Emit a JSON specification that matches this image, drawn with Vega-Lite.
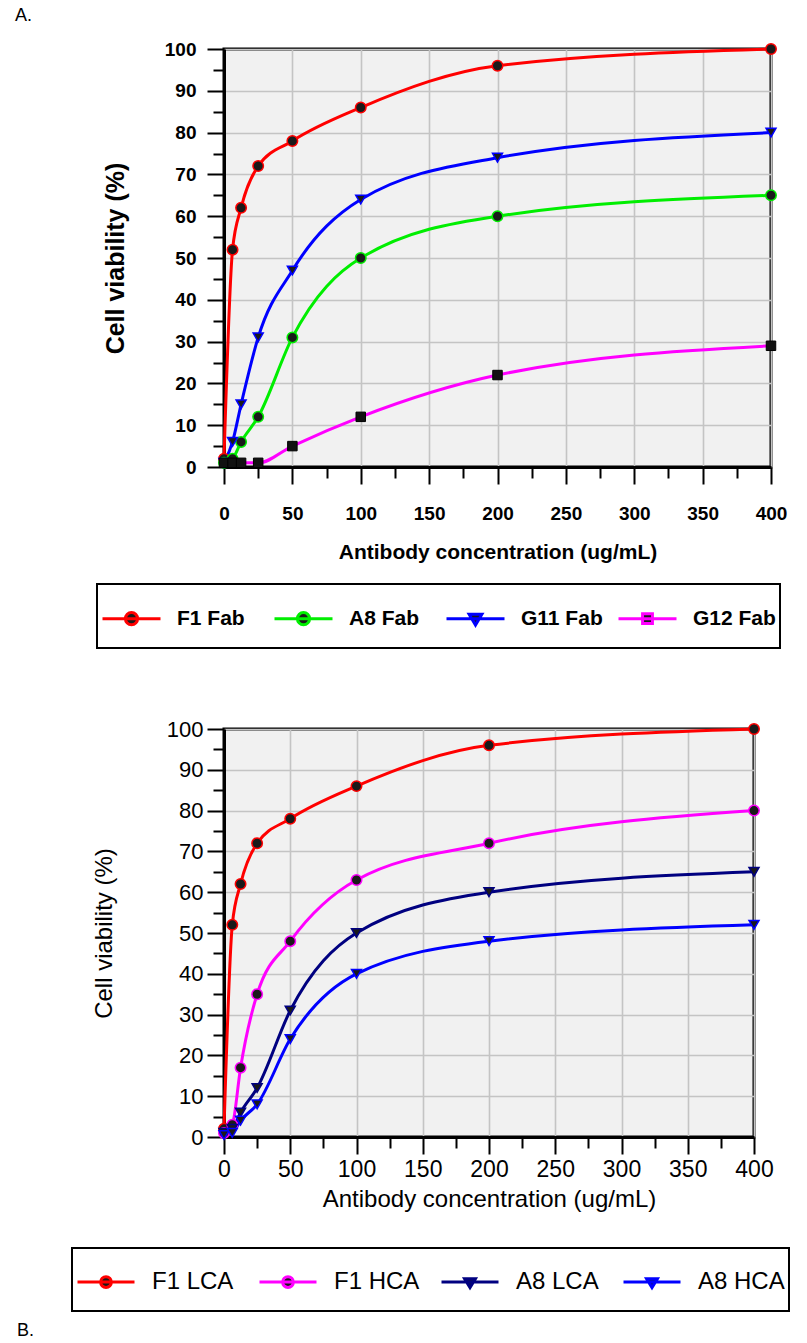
{
  "$schema": "https://vega.github.io/schema/vega-lite/v6.json",
  "background": "white",
  "padding": {"left": 13, "top": 5, "right": 5, "bottom": 0},
  "spacing": 65,
  "config": {
    "view": {"stroke": "black", "strokeWidth": 3, "fill": "#f1f1f1"},
    "font": "Liberation Sans"
  },
  "resolve": {
    "scale": {"color": "independent", "stroke": "independent", "shape": "independent"},
    "legend": {"color": "independent", "stroke": "independent", "shape": "independent"}
  },
  "datasets": {
    "a": [
      {"series": "F1 Fab", "conc": 0, "viability": 2},
      {"series": "F1 Fab", "conc": 6.25, "viability": 52},
      {"series": "F1 Fab", "conc": 12.5, "viability": 62},
      {"series": "F1 Fab", "conc": 25, "viability": 72},
      {"series": "F1 Fab", "conc": 50, "viability": 78},
      {"series": "F1 Fab", "conc": 100, "viability": 86},
      {"series": "F1 Fab", "conc": 200, "viability": 96},
      {"series": "F1 Fab", "conc": 400, "viability": 100},
      {"series": "A8 Fab", "conc": 0, "viability": 1},
      {"series": "A8 Fab", "conc": 6.25, "viability": 2},
      {"series": "A8 Fab", "conc": 12.5, "viability": 6},
      {"series": "A8 Fab", "conc": 25, "viability": 12},
      {"series": "A8 Fab", "conc": 50, "viability": 31},
      {"series": "A8 Fab", "conc": 100, "viability": 50},
      {"series": "A8 Fab", "conc": 200, "viability": 60},
      {"series": "A8 Fab", "conc": 400, "viability": 65},
      {"series": "G11 Fab", "conc": 0, "viability": 1},
      {"series": "G11 Fab", "conc": 6.25, "viability": 6},
      {"series": "G11 Fab", "conc": 12.5, "viability": 15},
      {"series": "G11 Fab", "conc": 25, "viability": 31},
      {"series": "G11 Fab", "conc": 50, "viability": 47},
      {"series": "G11 Fab", "conc": 100, "viability": 64},
      {"series": "G11 Fab", "conc": 200, "viability": 74},
      {"series": "G11 Fab", "conc": 400, "viability": 80},
      {"series": "G12 Fab", "conc": 0, "viability": 1},
      {"series": "G12 Fab", "conc": 6.25, "viability": 1},
      {"series": "G12 Fab", "conc": 12.5, "viability": 1},
      {"series": "G12 Fab", "conc": 25, "viability": 1},
      {"series": "G12 Fab", "conc": 50, "viability": 5},
      {"series": "G12 Fab", "conc": 100, "viability": 12},
      {"series": "G12 Fab", "conc": 200, "viability": 22},
      {"series": "G12 Fab", "conc": 400, "viability": 29}
    ],
    "b": [
      {"series": "F1 LCA", "conc": 0, "viability": 2},
      {"series": "F1 LCA", "conc": 6.25, "viability": 52},
      {"series": "F1 LCA", "conc": 12.5, "viability": 62},
      {"series": "F1 LCA", "conc": 25, "viability": 72},
      {"series": "F1 LCA", "conc": 50, "viability": 78},
      {"series": "F1 LCA", "conc": 100, "viability": 86},
      {"series": "F1 LCA", "conc": 200, "viability": 96},
      {"series": "F1 LCA", "conc": 400, "viability": 100},
      {"series": "F1 HCA", "conc": 0, "viability": 1},
      {"series": "F1 HCA", "conc": 6.25, "viability": 3},
      {"series": "F1 HCA", "conc": 12.5, "viability": 17},
      {"series": "F1 HCA", "conc": 25, "viability": 35},
      {"series": "F1 HCA", "conc": 50, "viability": 48},
      {"series": "F1 HCA", "conc": 100, "viability": 63},
      {"series": "F1 HCA", "conc": 200, "viability": 72},
      {"series": "F1 HCA", "conc": 400, "viability": 80},
      {"series": "A8 LCA", "conc": 0, "viability": 1},
      {"series": "A8 LCA", "conc": 6.25, "viability": 2},
      {"series": "A8 LCA", "conc": 12.5, "viability": 6},
      {"series": "A8 LCA", "conc": 25, "viability": 12},
      {"series": "A8 LCA", "conc": 50, "viability": 31},
      {"series": "A8 LCA", "conc": 100, "viability": 50},
      {"series": "A8 LCA", "conc": 200, "viability": 60},
      {"series": "A8 LCA", "conc": 400, "viability": 65},
      {"series": "A8 HCA", "conc": 0, "viability": 0.5},
      {"series": "A8 HCA", "conc": 6.25, "viability": 1},
      {"series": "A8 HCA", "conc": 12.5, "viability": 4},
      {"series": "A8 HCA", "conc": 25, "viability": 8},
      {"series": "A8 HCA", "conc": 50, "viability": 24},
      {"series": "A8 HCA", "conc": 100, "viability": 40},
      {"series": "A8 HCA", "conc": 200, "viability": 48},
      {"series": "A8 HCA", "conc": 400, "viability": 52}
    ]
  },
  "vconcat": [
    {
      "width": 547,
      "height": 418,
      "title": {"text": "A.", "anchor": "start", "frame": "group", "dx": -209, "offset": 15, "fontSize": 18, "fontWeight": "normal", "font": "Liberation Sans", "color": "black"},
      "data": {"name": "a"},
      "layer": [
        {
          "mark": {"type": "line", "interpolate": "monotone", "strokeWidth": 3},
          "encoding": {
            "x": {"field": "conc", "type": "quantitative", "scale": {"domain": [0, 400], "nice": false, "zero": true},
              "axis": {"values": [0, 50, 100, 150, 200, 250, 300, 350, 400], "orient": "bottom", "tickSize": 17, "tickWidth": 2, "tickColor": "black", "domainColor": "black", "domainWidth": 3, "grid": true, "gridColor": "#c4c4c4", "gridWidth": 1.6, "labelFont": "Liberation Sans", "labelFontSize": 19, "labelFontWeight": "bold", "labelColor": "black", "labelPadding": 20, "labelFlush": false, "labelOverlap": false, "title": "Antibody concentration (ug/mL)", "titleFont": "Liberation Sans", "titleFontSize": 21, "titleFontWeight": "bold", "titleColor": "black", "titlePadding": 18}},
            "y": {"field": "viability", "type": "quantitative", "scale": {"domain": [0, 100], "nice": false},
              "axis": {"values": [0, 10, 20, 30, 40, 50, 60, 70, 80, 90, 100], "orient": "left", "tickSize": 17, "tickWidth": 2, "tickColor": "black", "domainColor": "black", "domainWidth": 3, "grid": true, "gridColor": "#c4c4c4", "gridWidth": 1.6, "labelFont": "Liberation Sans", "labelFontSize": 19, "labelFontWeight": "bold", "labelColor": "black", "labelPadding": 11, "labelFlush": false, "labelOverlap": false, "title": "Cell viability (%)", "titleFont": "Liberation Sans", "titleFontSize": 25, "titleFontWeight": "bold", "titleColor": "black", "titlePadding": 36}},
            "color": {"field": "series", "type": "nominal",
              "scale": {"domain": ["F1 Fab", "A8 Fab", "G11 Fab", "G12 Fab"], "range": ["#ff0000", "#00ee00", "#0000ff", "#ff00ff"]},
              "legend": {
                "orient": "none", "legendX": -127, "legendY": 535, "direction": "horizontal", "columns": 4, "title": null,
                "gridAlign": "all", "columnPadding": 8, "padding": 4, "strokeColor": "black", "fillColor": "white",
                "symbolSize": 3364, "symbolStrokeWidth": 3, "symbolFillColor": "#1a1a1a",
                "labelFont": "Liberation Sans", "labelFontSize": 21, "labelFontWeight": "bold", "labelColor": "black", "labelOffset": 15, "labelLimit": 200,
                "encode": {
                  "legend": {"update": {"strokeWidth": {"value": 2}}},
                  "symbols": {"update": {
                    "shape": {"signal": "datum.value == 'G11 Fab' ? 'M0,-0.66M0,0.66M-1,0H1M-0.22,-0.15L0.22,-0.15L0,0.22Z' : datum.value == 'G12 Fab' ? 'M0,-0.66M0,0.66M-1,0H1M-0.17,-0.17H0.17V0.17H-0.17Z' : 'M0,-0.66M0,0.66M-1,0H1M-0.21,0A0.21,0.21,0,1,0,0.21,0A0.21,0.21,0,1,0,-0.21,0Z'"},
                    "fill": {"value": "#1a1a1a"},
                    "strokeWidth": {"value": 3},
                    "size": {"value": 3364},
                    "opacity": {"value": 1}
                  }}
                }
              }}
          }
        },
        {
          "transform": [{"filter": {"field": "series", "oneOf": ["F1 Fab", "A8 Fab"]}}],
          "mark": {"type": "point", "shape": "circle", "filled": true, "fill": "#1a1a1a", "strokeWidth": 1.5, "size": 110, "opacity": 1},
          "encoding": {
            "x": {"field": "conc", "type": "quantitative", "axis": null},
            "y": {"field": "viability", "type": "quantitative", "axis": null},
            "stroke": {"field": "series", "type": "nominal", "scale": {"domain": ["F1 Fab", "A8 Fab", "G11 Fab", "G12 Fab"], "range": ["#ff0000", "#00ee00", "#0000ff", "#000000"]}, "legend": null}
          }
        },
        {
          "transform": [{"filter": {"field": "series", "equal": "G11 Fab"}}],
          "mark": {"type": "point", "shape": "triangle-down", "filled": true, "fill": "#1a1a1a", "strokeWidth": 1.5, "size": 100, "opacity": 1},
          "encoding": {
            "x": {"field": "conc", "type": "quantitative", "axis": null},
            "y": {"field": "viability", "type": "quantitative", "axis": null},
            "stroke": {"field": "series", "type": "nominal", "legend": null}
          }
        },
        {
          "transform": [{"filter": {"field": "series", "equal": "G12 Fab"}}],
          "mark": {"type": "point", "shape": "square", "filled": true, "fill": "#111111", "strokeWidth": 1, "size": 90, "opacity": 1},
          "encoding": {
            "x": {"field": "conc", "type": "quantitative", "axis": null},
            "y": {"field": "viability", "type": "quantitative", "axis": null},
            "stroke": {"field": "series", "type": "nominal", "legend": null}
          }
        },
        {
          "mark": {"type": "point", "opacity": 0},
          "encoding": {
            "x": {"field": "conc", "type": "quantitative",
              "axis": {"values": [25, 75, 125, 175, 225, 275, 325, 375], "orient": "bottom", "tickSize": 11, "tickWidth": 2, "tickColor": "black", "domain": false, "grid": false, "labels": false, "title": null}},
            "y": {"field": "viability", "type": "quantitative",
              "axis": {"values": [5, 15, 25, 35, 45, 55, 65, 75, 85, 95], "orient": "left", "tickSize": 11, "tickWidth": 2, "tickColor": "black", "domain": false, "grid": false, "labels": false, "title": null}}
          }
        }
      ],
      "resolve": {"axis": {"x": "independent", "y": "independent"}}
    },
    {
      "width": 530,
      "height": 408,
      "title": {"text": "B.", "orient": "bottom", "anchor": "start", "frame": "group", "dx": -207, "offset": 10, "fontSize": 18, "fontWeight": "normal", "font": "Liberation Sans", "color": "black"},
      "data": {"name": "b"},
      "layer": [
        {
          "mark": {"type": "line", "interpolate": "monotone", "strokeWidth": 3},
          "encoding": {
            "x": {"field": "conc", "type": "quantitative", "scale": {"domain": [0, 400], "nice": false, "zero": true},
              "axis": {"values": [0, 50, 100, 150, 200, 250, 300, 350, 400], "orient": "bottom", "tickSize": 17, "tickWidth": 2, "tickColor": "black", "domainColor": "black", "domainWidth": 3, "grid": true, "gridColor": "#c4c4c4", "gridWidth": 1.6, "labelFont": "Liberation Sans", "labelFontSize": 23, "labelFontWeight": "normal", "labelColor": "black", "labelPadding": 4, "labelFlush": false, "labelOverlap": false, "title": "Antibody concentration (ug/mL)", "titleFont": "Liberation Sans", "titleFontSize": 24, "titleFontWeight": "normal", "titleColor": "black", "titlePadding": 6}},
            "y": {"field": "viability", "type": "quantitative", "scale": {"domain": [0, 100], "nice": false},
              "axis": {"values": [0, 10, 20, 30, 40, 50, 60, 70, 80, 90, 100], "orient": "left", "tickSize": 17, "tickWidth": 2, "tickColor": "black", "domainColor": "black", "domainWidth": 3, "grid": true, "gridColor": "#c4c4c4", "gridWidth": 1.6, "labelFont": "Liberation Sans", "labelFontSize": 22, "labelFontWeight": "normal", "labelColor": "black", "labelPadding": 4, "labelFlush": false, "labelOverlap": false, "title": "Cell viability (%)", "titleFont": "Liberation Sans", "titleFontSize": 24, "titleFontWeight": "normal", "titleColor": "black", "titlePadding": 50}},
            "color": {"field": "series", "type": "nominal",
              "scale": {"domain": ["F1 LCA", "F1 HCA", "A8 LCA", "A8 HCA"], "range": ["#ff0000", "#ff00ff", "#000080", "#0000ff"]},
              "legend": {
                "orient": "none", "legendX": -152, "legendY": 519, "direction": "horizontal", "columns": 4, "title": null,
                "gridAlign": "all", "columnPadding": 14, "padding": 4, "strokeColor": "black", "fillColor": "white",
                "symbolSize": 3249, "symbolStrokeWidth": 3, "symbolFillColor": "#1a1a1a",
                "labelFont": "Liberation Sans", "labelFontSize": 24, "labelFontWeight": "normal", "labelColor": "black", "labelOffset": 16, "labelLimit": 200,
                "encode": {
                  "legend": {"update": {"strokeWidth": {"value": 2}}},
                  "symbols": {"update": {
                    "shape": {"signal": "(datum.value == 'A8 LCA' || datum.value == 'A8 HCA') ? 'M0,-0.66M0,0.66M-1,0H1M-0.19,-0.12L0.19,-0.12L0,0.19Z' : 'M0,-0.66M0,0.66M-1,0H1M-0.19,0A0.19,0.19,0,1,0,0.19,0A0.19,0.19,0,1,0,-0.19,0Z'"},
                    "fill": {"value": "#1a1a1a"},
                    "strokeWidth": {"value": 3},
                    "size": {"value": 3249},
                    "opacity": {"value": 1}
                  }}
                }
              }}
          }
        },
        {
          "transform": [{"filter": {"field": "series", "oneOf": ["F1 LCA", "F1 HCA"]}}],
          "mark": {"type": "point", "shape": "circle", "filled": true, "fill": "#1a1a1a", "strokeWidth": 1.5, "size": 110, "opacity": 1},
          "encoding": {
            "x": {"field": "conc", "type": "quantitative", "axis": null},
            "y": {"field": "viability", "type": "quantitative", "axis": null},
            "stroke": {"field": "series", "type": "nominal", "scale": {"domain": ["F1 LCA", "F1 HCA", "A8 LCA", "A8 HCA"], "range": ["#ff0000", "#ff00ff", "#000080", "#0000ff"]}, "legend": null}
          }
        },
        {
          "transform": [{"filter": {"field": "series", "oneOf": ["A8 LCA", "A8 HCA"]}}],
          "mark": {"type": "point", "shape": "triangle-down", "filled": true, "fill": "#1a1a1a", "strokeWidth": 1.5, "size": 100, "opacity": 1},
          "encoding": {
            "x": {"field": "conc", "type": "quantitative", "axis": null},
            "y": {"field": "viability", "type": "quantitative", "axis": null},
            "stroke": {"field": "series", "type": "nominal", "legend": null}
          }
        },
        {
          "mark": {"type": "point", "opacity": 0},
          "encoding": {
            "x": {"field": "conc", "type": "quantitative",
              "axis": {"values": [25, 75, 125, 175, 225, 275, 325, 375], "orient": "bottom", "tickSize": 11, "tickWidth": 2, "tickColor": "black", "domain": false, "grid": false, "labels": false, "title": null}},
            "y": {"field": "viability", "type": "quantitative",
              "axis": {"values": [5, 15, 25, 35, 45, 55, 65, 75, 85, 95], "orient": "left", "tickSize": 11, "tickWidth": 2, "tickColor": "black", "domain": false, "grid": false, "labels": false, "title": null}}
          }
        }
      ],
      "resolve": {"axis": {"x": "independent", "y": "independent"}}
    }
  ]
}
